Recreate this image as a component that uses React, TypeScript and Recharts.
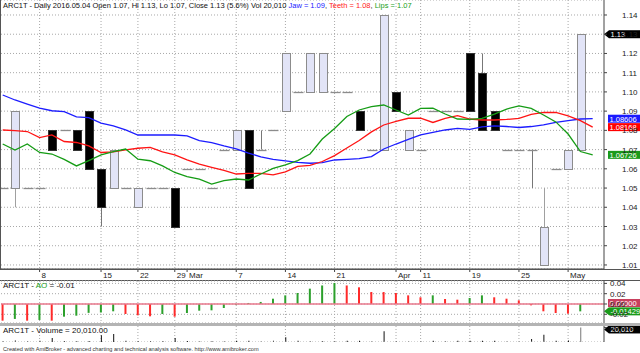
import React from "react";
import {
  ComposedChart,
  Bar,
  Line,
  XAxis,
  YAxis,
  CartesianGrid,
  ReferenceLine,
  Cell,
} from "recharts";

// bar index -1 .. 46 (traded days only), line series run one bar further (47)
const openP = [1.05, 1.05, 1.05, 1.05, 1.08, 1.08, 1.08, 1.09, 1.06, 1.05, 1.05, 1.04, 1.05, 1.05, 1.05, 1.06, 1.06, 1.05, 1.07, 1.07, 1.08, 1.07, 1.08, 1.09, 1.1, 1.1, 1.1, 1.1, 1.1, 1.09, 1.07, 1.07, 1.1, 1.07, 1.07, 1.09, 1.09, 1.09, 1.12, 1.11, 1.09, 1.07, 1.07, 1.07, 1.01, 1.06, 1.06, 1.07];
const highP = [1.05, 1.09, 1.05, 1.05, 1.08, 1.08, 1.08, 1.09, 1.06, 1.07, 1.05, 1.05, 1.05, 1.05, 1.05, 1.06, 1.06, 1.05, 1.07, 1.08, 1.08, 1.08, 1.08, 1.12, 1.1, 1.12, 1.12, 1.1, 1.1, 1.09, 1.07, 1.14, 1.1, 1.08, 1.07, 1.09, 1.09, 1.09, 1.12, 1.12, 1.09, 1.07, 1.07, 1.07, 1.05, 1.06, 1.07, 1.13];
const lowP = [1.05, 1.04, 1.05, 1.05, 1.07, 1.08, 1.07, 1.06, 1.03, 1.05, 1.05, 1.04, 1.05, 1.05, 1.03, 1.06, 1.06, 1.05, 1.07, 1.07, 1.05, 1.07, 1.08, 1.09, 1.1, 1.1, 1.1, 1.1, 1.1, 1.08, 1.07, 1.07, 1.09, 1.07, 1.07, 1.09, 1.09, 1.09, 1.09, 1.08, 1.08, 1.07, 1.07, 1.05, 1.01, 1.06, 1.06, 1.07];
const closeP = [1.05, 1.09, 1.05, 1.05, 1.07, 1.08, 1.07, 1.06, 1.04, 1.07, 1.05, 1.05, 1.05, 1.05, 1.03, 1.06, 1.06, 1.05, 1.07, 1.08, 1.05, 1.07, 1.08, 1.12, 1.1, 1.12, 1.12, 1.1, 1.1, 1.08, 1.07, 1.14, 1.09, 1.08, 1.07, 1.09, 1.09, 1.09, 1.09, 1.08, 1.08, 1.07, 1.07, 1.07, 1.03, 1.06, 1.07, 1.13];

const jaw = [1.0984, 1.0958, 1.0937, 1.0916, 1.0902, 1.0897, 1.087, 1.0866, 1.0838, 1.0823, 1.0802, 1.0776, 1.0776, 1.0776, 1.0776, 1.0771, 1.0747, 1.0736, 1.0719, 1.0704, 1.0682, 1.0662, 1.0649, 1.0641, 1.0633, 1.0629, 1.0632, 1.0646, 1.0649, 1.0653, 1.0664, 1.0703, 1.0729, 1.0753, 1.0776, 1.0789, 1.0802, 1.081, 1.0805, 1.0818, 1.0823, 1.082, 1.0815, 1.082, 1.0828, 1.0841, 1.0851, 1.0859, 1.08606];
const teeth = [1.0802, 1.0799, 1.0794, 1.0762, 1.0776, 1.0742, 1.0737, 1.0719, 1.0685, 1.0688, 1.0698, 1.0707, 1.0712, 1.0688, 1.0672, 1.0646, 1.0625, 1.0608, 1.0592, 1.0573, 1.0576, 1.0576, 1.0569, 1.0584, 1.0613, 1.0618, 1.0638, 1.0669, 1.0708, 1.0747, 1.0792, 1.0828, 1.0847, 1.0863, 1.0863, 1.0841, 1.0862, 1.0877, 1.0859, 1.0854, 1.0854, 1.0857, 1.0862, 1.0883, 1.0894, 1.0893, 1.0875, 1.0851, 1.08168];
const lips = [1.0729, 1.0698, 1.0729, 1.0685, 1.0677, 1.0649, 1.0615, 1.0643, 1.0672, 1.069, 1.0703, 1.065, 1.0642, 1.0615, 1.0581, 1.056, 1.0546, 1.0521, 1.0539, 1.0547, 1.0542, 1.0573, 1.0602, 1.062, 1.0643, 1.0677, 1.0755, 1.081, 1.0872, 1.0906, 1.0924, 1.0932, 1.0906, 1.088, 1.0914, 1.0916, 1.0885, 1.0859, 1.0857, 1.0862, 1.0885, 1.0911, 1.0927, 1.0914, 1.088, 1.0844, 1.0781, 1.069, 1.06726];

const ao = [-0.0324, -0.029, -0.0324, -0.031, -0.0324, -0.0246, -0.0227, -0.0172, -0.0165, -0.0142, -0.0194, -0.022, -0.0239, -0.0194, -0.0246, -0.0175, -0.013, -0.0123, -0.0078, -0.0015, 0.002, 0.004, 0.0103, 0.0168, 0.0214, 0.0298, 0.036, 0.0408, 0.036, 0.0324, 0.0233, 0.0232, 0.0214, 0.0168, 0.013, 0.0168, 0.0097, 0.0084, 0.0117, 0.0168, 0.013, 0.0103, 0.0071, -0.0026, -0.0142, -0.0175, -0.0188, -0.01429];
const volume = [1200, 2000, 900, 1800, 5500, 1000, 1200, 1500, 9200, 11000, 1800, 1500, 1500, 1500, 5500, 1500, 800, 900, 700, 1800, 1800, 800, 1800, 6500, 1800, 800, 900, 800, 1800, 1800, 600, 14700, 900, 800, 700, 1800, 600, 1800, 1800, 1800, 1800, 600, 500, 4100, 10000, 1800, 2200, 20010];

const priceTicks = [1.01, 1.02, 1.03, 1.04, 1.05, 1.06, 1.07, 1.08, 1.09, 1.1, 1.11, 1.12, 1.13, 1.14];
const aoTicks = [-0.02, 0, 0.02, 0.04];
const dateTicks = [2, 7, 10, 13, 14, 18, 22, 26, 31, 33, 37, 41, 45];
const dateLabels = ["8", "15", "22", "29", "Mar", "7", "14", "21", "Apr", "11", "19", "25", "May"];
const weekLines = [2, 7, 10, 13, 18, 22, 26, 31, 33, 37, 41, 45];

const FONT = "'Liberation Sans', Arial, sans-serif";
const X_DOMAIN = [-1.139, 47.92];
const PLOT_LEFT = 1;
const PLOT_W = 603;
const BLUE = "#1c1cff";
const RED = "#ff1414";
const GREEN = "#159c15";

// pixel x of the weekly grid lines (grid only, drawn behind the bars)
const weekPx = weekLines.map(
  (w) => PLOT_LEFT + ((w - X_DOMAIN[0]) / (X_DOMAIN[1] - X_DOMAIN[0])) * PLOT_W
);

const priceData = jaw.map((j, k) => {
  const row: any = { i: k - 1, jaw: j, teeth: teeth[k], lips: lips[k] };
  if (k < openP.length) {
    row.range = [lowP[k], highP[k]];
    row.open = openP[k];
    row.high = highP[k];
    row.low = lowP[k];
    row.close = closeP[k];
  }
  return row;
});

const lowerData = ao.map((v, k) => ({ i: k - 1, ao: v, vol: volume[k] }));

function Candle(props: any) {
  const { x, y, width, height, payload } = props;
  if (!payload || payload.open == null) return null;
  const { open, high, low, close } = payload;
  const top = Math.min(y, y + height);
  const h = Math.abs(height);
  const py = (v: number) => (h > 0 ? top + ((high - v) / (high - low)) * h : top);
  const cx = Math.round(x + width / 2) + 0.5;
  if (open === close) {
    const yy = Math.round(py(open)) + 0.5;
    return (
      <g>
        {h > 0 && <line x1={cx} x2={cx} y1={top} y2={top + h} stroke="#777" />}
        <line x1={cx - 5} x2={cx + 5} y1={yy} y2={yy} stroke="#8c8c8c" strokeWidth={1.3} />
      </g>
    );
  }
  const up = close > open;
  const bTop = Math.round(py(Math.max(open, close))) + 0.5;
  const bBot = Math.round(py(Math.min(open, close))) + 0.5;
  return (
    <g>
      <line x1={cx} x2={cx} y1={top} y2={top + h} stroke={up ? "#a0a0a0" : "#777"} />
      <rect
        x={cx - 4}
        y={bTop}
        width={8}
        height={bBot - bTop}
        fill={up ? "#e2e4f7" : "#000"}
        stroke={up ? "#8c8c8c" : "#333"}
        strokeWidth={1}
      />
    </g>
  );
}

function DateTick(props: any) {
  const { x, y, payload } = props;
  const idx = dateTicks.indexOf(payload.value);
  return (
    <text x={x + 2} y={y + 6} fontSize={8} fontFamily={FONT} fill="#222" textAnchor="start">
      {dateLabels[idx]}
    </text>
  );
}

function PriceTick(props: any) {
  const { y, payload } = props;
  return (
    <text x={622} y={y + 3} fontSize={8} fontFamily={FONT} fill="#222" textAnchor="start">
      {Number(payload.value).toFixed(2)}
    </text>
  );
}

const tag = (text: string, fill: string, arrow: boolean, dy = 0) => (p: any) => {
  const vb = p.viewBox || {};
  const x = (vb.x || 0) + (vb.width || 0);
  const y = (vb.y || 0) + dy;
  const left = arrow ? x + 5 : x + 4;
  return (
    <g>
      {arrow && <polygon points={`${x},${y} ${left},${y - 4} ${left},${y + 4}`} fill={fill} />}
      <rect x={left} y={y - 4} width={640 - left} height={8} fill={fill} />
      <text x={left + 1.5} y={y + 3} fontSize={7.5} fontFamily={FONT} fill="#fff">
        {text}
      </text>
    </g>
  );
};

const panelLabel: React.CSSProperties = {
  position: "absolute",
  left: 3,
  fontFamily: FONT,
  fontSize: 8,
  whiteSpace: "nowrap",
  color: "#111",
  lineHeight: "9px",
};

export default function App() {
  const last = priceData.length - 1;
  return (
    <div style={{ position: "relative", width: 640, height: 353, background: "#fff", overflow: "hidden" }}>
      <style>{"body{margin:0}"}</style>

      {/* price panel */}
      <div style={{ position: "absolute", left: 0, top: 0 }}>
        <ComposedChart width={640} height={280} data={priceData} margin={{ top: 0, right: 0, left: PLOT_LEFT, bottom: 0 }}>
          <CartesianGrid stroke="#a8a8a8" strokeDasharray="1 2" verticalPoints={weekPx} />
          <XAxis
            dataKey="i"
            type="number"
            domain={X_DOMAIN}
            allowDataOverflow
            ticks={dateTicks}
            tick={<DateTick />}
            tickSize={3}
            tickMargin={0}
            height={11}
            interval={0}
            stroke="#444"
          />
          <YAxis
            orientation="right"
            type="number"
            domain={[1.0079, 1.1478]}
            allowDataOverflow
            ticks={priceTicks}
            interval={0}
            width={36}
            tickSize={3}
            tick={<PriceTick />}
            stroke="#444"
          />
          <Bar dataKey="range" barSize={9} shape={<Candle />} isAnimationActive={false} />
          <Line type="linear" dataKey="jaw" stroke={BLUE} strokeWidth={1.3} dot={false} isAnimationActive={false} />
          <Line type="linear" dataKey="teeth" stroke={RED} strokeWidth={1.3} dot={false} isAnimationActive={false} />
          <Line type="linear" dataKey="lips" stroke={GREEN} strokeWidth={1.3} dot={false} isAnimationActive={false} />
          <ReferenceLine y={closeP[closeP.length - 1]} stroke="none" ifOverflow="visible" label={{ content: tag("1.13", "#000", true) }} />
          <ReferenceLine y={jaw[last]} stroke="none" ifOverflow="visible" label={{ content: tag(jaw[last].toFixed(5), "#1a1aff", false) }} />
          <ReferenceLine y={teeth[last]} stroke="none" ifOverflow="visible" label={{ content: tag(teeth[last].toFixed(5), "#ff0000", false) }} />
          <ReferenceLine y={lips[last]} stroke="none" ifOverflow="visible" label={{ content: tag(lips[last].toFixed(5), "#1a9a1a", false) }} />
        </ComposedChart>
      </div>
      <div style={{ ...panelLabel, top: 1, fontSize: 7.5 }}>
        ARC1T - Daily 2016.05.04 Open 1.07, Hi 1.13, Lo 1.07, Close 1.13 (5.6%) Vol 20,010{" "}
        <span style={{ color: "#2020ff" }}>Jaw = 1.09</span>,{" "}
        <span style={{ color: "#ff2020" }}>Teeth = 1.08</span>,{" "}
        <span style={{ color: "#20a020" }}>Lips = 1.07</span>
      </div>

      {/* panel borders */}
      <div style={{ position: "absolute", left: 0, top: 0, width: 1, height: 269, background: "#555" }} />
      <div style={{ position: "absolute", left: 0, top: 269, width: 640, height: 1, background: "#555" }} />
      <div style={{ position: "absolute", left: 0, top: 280, width: 640, height: 1, background: "#555" }} />
      <div style={{ position: "absolute", left: 0, top: 323, width: 640, height: 3, background: "#b4b4b4" }} />

      {/* AO panel */}
      <div style={{ position: "absolute", left: 0, top: 280 }}>
        <ComposedChart width={640} height={43} data={lowerData} margin={{ top: 1, right: 0, left: PLOT_LEFT, bottom: 0 }}>
          <CartesianGrid stroke="#a8a8a8" strokeDasharray="1 2" verticalPoints={weekPx} />
          <XAxis dataKey="i" type="number" domain={X_DOMAIN} allowDataOverflow hide />
          <YAxis
            orientation="right"
            type="number"
            domain={[-0.0369, 0.04466]}
            allowDataOverflow
            ticks={aoTicks}
            interval={0}
            tickFormatter={(v) => v.toFixed(2)}
            width={36}
            tickSize={3}
            tickMargin={3}
            tick={{ fontSize: 8, fontFamily: FONT, fill: "#222" }}
            stroke="#444"
          />
          <ReferenceLine y={0} stroke="#e8788c" strokeWidth={1.5} />
          <Bar dataKey="ao" barSize={2} isAnimationActive={false}>
            {ao.map((v, k) => (
              <Cell key={k} fill={k > 0 && v > ao[k - 1] ? "#2ca02c" : "#ff2a2a"} />
            ))}
          </Bar>
          <ReferenceLine y={0} stroke="none" ifOverflow="visible" label={{ content: tag("0.00000", "#c8405e", false, -1) }} />
          <ReferenceLine y={ao[ao.length - 1]} stroke="none" ifOverflow="visible" label={{ content: tag(ao[ao.length - 1].toFixed(5), "#1a9a1a", true) }} />
        </ComposedChart>
      </div>
      <div style={{ ...panelLabel, top: 281 }}>
        ARC1T - <span style={{ color: "#20a020" }}>AO</span> = -0.01
      </div>

      {/* volume panel */}
      <div style={{ position: "absolute", left: 0, top: 326 }}>
        <ComposedChart width={640} height={16} data={lowerData} margin={{ top: 0, right: 0, left: PLOT_LEFT, bottom: 0 }}>
          <CartesianGrid horizontal={false} stroke="#a8a8a8" strokeDasharray="1 2" verticalPoints={weekPx} />
          <XAxis dataKey="i" type="number" domain={X_DOMAIN} allowDataOverflow hide />
          <YAxis
            orientation="right"
            type="number"
            domain={[0, 22000]}
            allowDataOverflow
            ticks={[20000]}
            interval={0}
            tickFormatter={(v) => v.toLocaleString("en-US")}
            width={36}
            tickSize={3}
            tickMargin={3}
            tick={{ fontSize: 8, fontFamily: FONT, fill: "#222" }}
            stroke="#444"
          />
          <ReferenceLine y={0} stroke="#a8a8a8" strokeDasharray="1 2" />
          <Bar dataKey="vol" barSize={1} isAnimationActive={false}>
            {volume.map((v, k) => (
              <Cell key={k} fill={k === volume.length - 1 ? "#777" : "#111"} />
            ))}
          </Bar>
          <ReferenceLine y={volume[volume.length - 1]} stroke="none" ifOverflow="visible" label={{ content: tag("20,010", "#000", true, 2) }} />
        </ComposedChart>
      </div>
      <div style={{ ...panelLabel, top: 326 }}>ARC1T - Volume = 20,010.00</div>

      <div style={{ ...panelLabel, top: 345, fontSize: 5.6, color: "#333" }}>
        Created with AmiBroker - advanced charting and technical analysis software. http://www.amibroker.com
      </div>
    </div>
  );
}
